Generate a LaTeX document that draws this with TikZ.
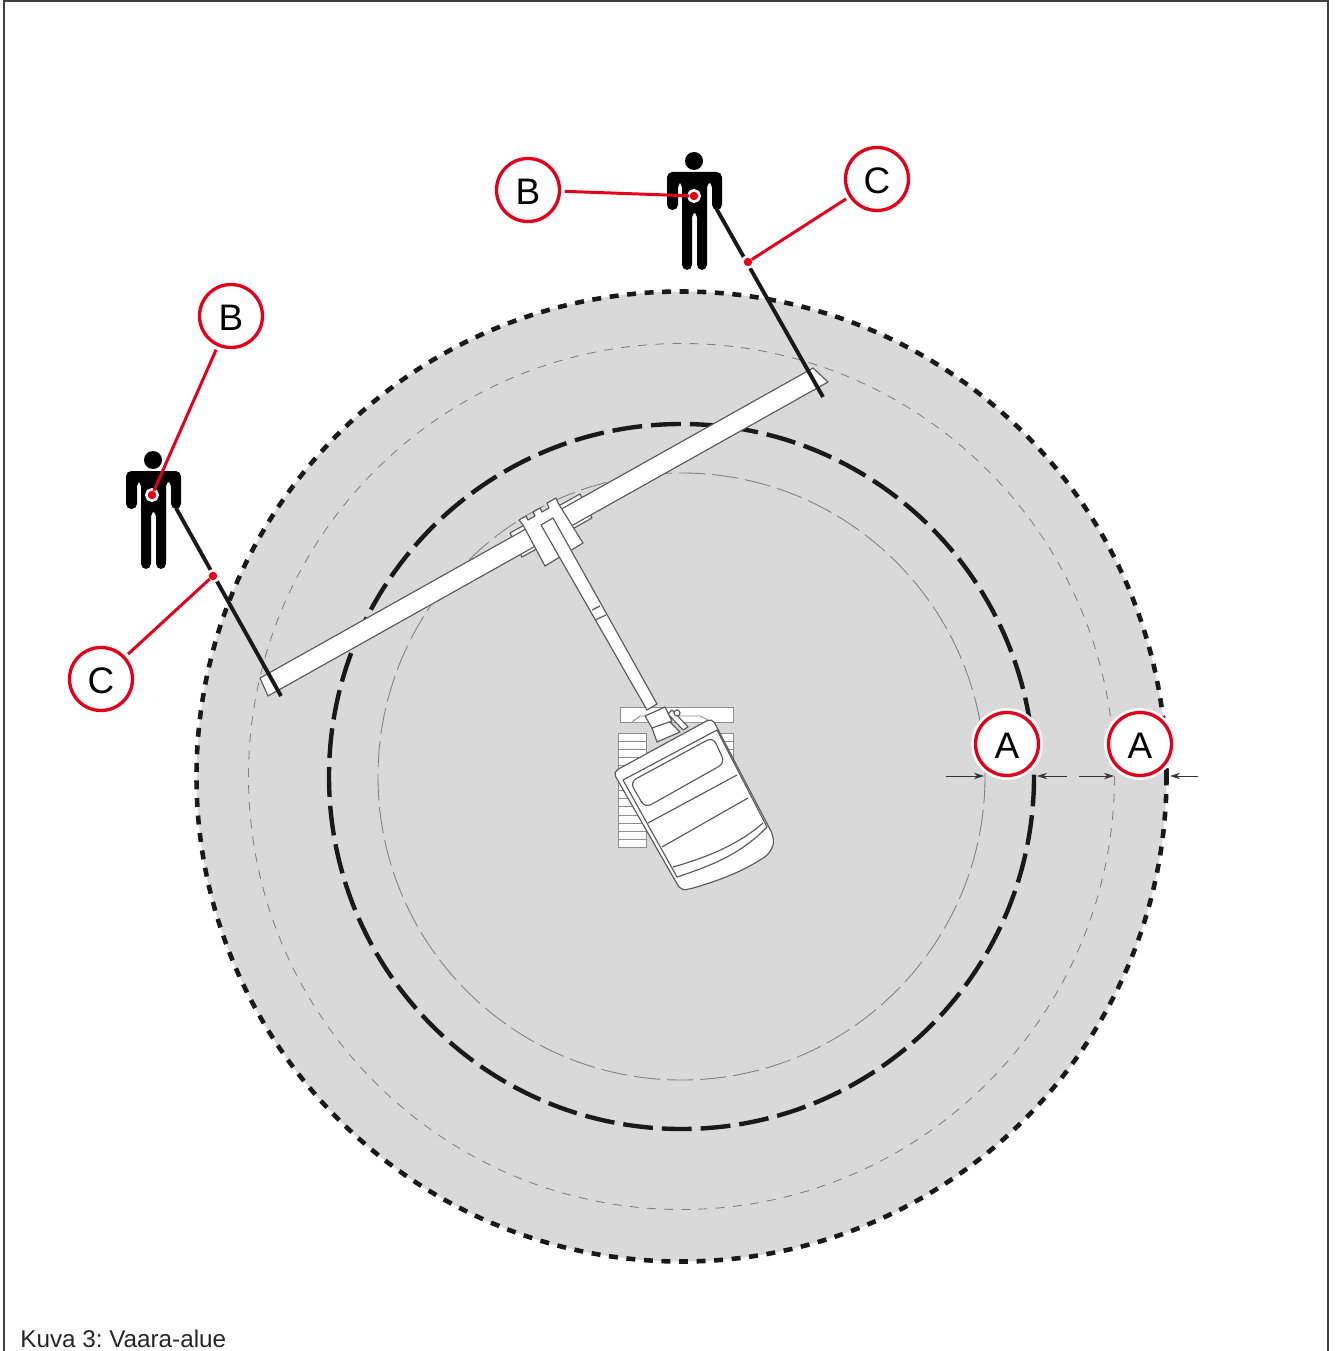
\documentclass[tikz,border=0pt]{standalone}
\usepackage{fontspec}
\setmainfont{Liberation Sans}
\usepackage{xcolor}
\usetikzlibrary{arrows.meta}
\definecolor{markred}{HTML}{E2001A}
\definecolor{zonegray}{HTML}{D9D9D9}

\begin{document}
\begin{tikzpicture}[x=0.02cm, y=-0.02cm,
	zone/.style = {draw=none, fill=zonegray},
	dotring/.style = {draw=black!90, line width=2.6pt, dash pattern=on 5.1pt off 4.9pt},
	thickring/.style = {draw=black!90, line width=2.5pt, dash pattern=on 17pt off 5.1pt},
	thinring/.style = {draw=black!50, line width=0.5pt, dash pattern=on 5.1pt off 4.7pt},
	part/.style = {draw=black!65, fill=white, line width=0.65pt, line join=round},
	rung/.style = {draw=black!45, fill=white, line width=0.5pt},
	rod/.style = {draw=black!90, line width=2.2pt},
	callout/.style = {circle, draw=markred, fill=white, line width=1.9pt, minimum size=1.26cm, inner sep=0pt, outer sep=3pt, text height=16pt, text depth=0pt, font=\fontsize{21}{25}\selectfont, preaction={draw=white, line width=5pt}},
	leader/.style = {draw=markred, line width=1.7pt},
	markdot/.style = {circle, fill=markred, inner sep=0pt, minimum size=0.17cm, preaction={draw=white, line width=3pt}},
	dimline/.style = {draw=black!80, line width=0.5pt, -{Stealth[length=5.7pt, width=3.6pt]}},
	person/.pic = {
		\fill[black] (0,0) circle (9);
		\fill[black, rounded corners=3pt] (-27,49) -- (-27,11) -- (28,11) -- (28,49) -- (18,49) -- (18,21) -- (13,21) -- (13,109) -- (3,109) -- (3,51) -- (-2,51) -- (-2,109) -- (-12,109) -- (-12,21) -- (-16,21) -- (-16,49) -- cycle;
	}
]
\useasboundingbox (0,0) rectangle (1335,1351);

% Frame, open at the bottom
\coordinate (FrameA) at (4,1351);
\coordinate (FrameB) at (4,1);
\coordinate (FrameC) at (1328,1);
\coordinate (FrameD) at (1328,1351);
\draw[black!75, line width=0.7pt] (FrameA) -- (FrameB) -- (FrameC) -- (FrameD);

% Hazard zones around the machine
\coordinate (Mid) at (681.5,776.5);
\fill[zone] (Mid) circle (485);
\draw[thinring] (Mid) circle (433);
\draw[thinring, dash pattern=on 15pt off 3.9pt] (Mid) circle (303.5);
\draw[thickring] (Mid) circle (352.5);
\draw[dotring] (Mid) circle (485);

% Tracks and frame of the base
\draw[rung] (620,707) rectangle (733,722);
\draw[rung] (632,722) -- (640,716) -- (700,716) -- (712,722);
\foreach \Y in {733,741.2,...,840} {
  \draw[rung] (618,\Y) rectangle (646,\Y+8.2);
  \draw[rung] (705,\Y) rectangle (733,\Y+8.2);
}

% Boom with its head
\draw[part] (510,533) -- (580,494) -- (592,518) -- (522,557) -- cycle;
\draw[part] (260,678) -- (813,368) -- (828,382) -- (268,696) -- cycle;
\draw[part] (523,525) -- (519,520) -- (526,516) -- (528,520) -- (535,516) -- (533,512) -- (540,508) -- (542,512) -- (549,508) -- (547,503) -- (556,498) -- (558,503) -- (583,543) -- (545,566) -- cycle;
\draw[part] (541,525) -- (553,518) -- (657,704) -- (647,710) -- cycle;
\draw[part] (592,610) -- (600,606);
\draw[part] (595,620) -- (606,615);

% Cab
\draw[part] (652,728) -- (657,742) -- (680,732) -- (665,717) -- cycle;
\draw[part] (672,710) -- (688,727) -- (683,730) -- (668,714) -- cycle;
\draw[part] (677,713) circle (3);
\draw[part] (645,716) -- (665,707) -- (672,721) -- (652,728) -- cycle;
\draw[part, rounded corners=3pt] (613,772) -- (712,718) -- (773,835) .. controls (774,848) and (768,855) .. (760,860) .. controls (735,875) and (710,883) .. (690,889) .. controls (683,890) and (679,887) .. (676,882) -- cycle;
\draw[part] (623,780) -- (717,730) -- (767,827) .. controls (740,855) and (710,866) .. (677,877) -- cycle;
\draw[part, rounded corners=4pt] (630,782) -- (713,737) -- (725,763) -- (645,808) -- cycle;
\draw[part] (648,823) -- (737,775);
\draw[part] (662,847) -- (748,798);
\draw[part] (673,867) .. controls (705,858) and (738,845) .. (763,823);

% Rods held by the two persons
\pic at (694,161) {person};
\pic at (153,460) {person};
\coordinate (RodA) at (716,208);
\coordinate (RodB) at (823,397);
\coordinate (RodC) at (176,508);
\coordinate (RodD) at (281,696);
\draw[rod] (RodA) -- (RodB);
\draw[rod] (RodC) -- (RodD);

% Callouts with their leaders
\node[markdot] (DotB) at (694,196) {};
\node[markdot] (DotBB) at (152,495) {};
\node[markdot] (DotC) at (748,262) {};
\node[markdot] (DotCC) at (213,576) {};
\foreach \N/\X/\Y/\LBL in {LabB/528/190/B, LabBB/231/316/B, LabC/877/179/C, LabCC/101/679/C} {
  \node[callout] (\N) at (\X,\Y) {\LBL};
}
\draw[leader] (LabB) -- (DotB);
\draw[leader] (LabBB) -- (DotBB);
\draw[leader] (LabC) -- (DotC);
\draw[leader] (LabCC) -- (DotCC);

% Widths of the two zones
\foreach \N/\XA/\XB in {P/946/984, Q/1067/1037, R/1079/1114, S/1198/1170} {
  \coordinate (\N a) at (\XA,776);
  \coordinate (\N b) at (\XB,776);
  \draw[dimline] (\N a) -- (\N b);
}
\node[callout] (LabA) at (1007,744) {A};
\node[callout] (LabAA) at (1140,744) {A};

\node[anchor=base west, inner sep=0pt, font=\fontsize{13.8}{16}\selectfont\frenchspacing, text=black!85] (Caption) at (20,1347) {Kuva 3: Vaara-alue};

\end{tikzpicture}
\end{document}
